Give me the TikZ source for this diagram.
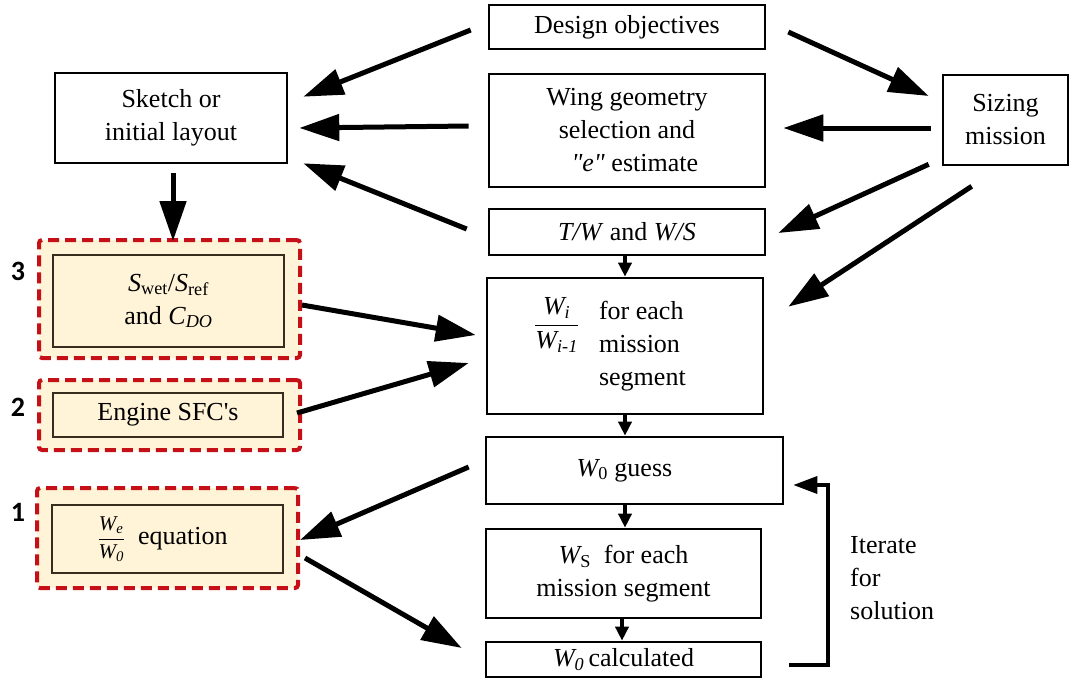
\documentclass[tikz,border=0pt]{standalone}
\usepackage{amsmath}
\usepackage{fontspec}
\setmainfont{Liberation Serif}
\newfontfamily\numfont{Carlito}
\newcommand{\rawq}[1]{{\addfontfeatures{Ligatures=TeXOff}#1}}
\usetikzlibrary{arrows.meta,calc}
\definecolor{dashred}{RGB}{196,16,22}
\definecolor{beige}{RGB}{255,243,216}
\definecolor{innerline}{RGB}{55,45,30}
\tikzset{
  box/.style={draw=black,line width=2.6pt,inner sep=0pt,align=center,
    font=\fontsize{26}{33}\selectfont},
  hlbox/.style={draw=innerline,fill=beige,line width=2.6pt,inner sep=0pt,align=center,
    font=\fontsize{26}{33}\selectfont},
  dashbox/.style={draw=dashred,fill=beige,line width=4pt,dash pattern=on 11pt off 6pt,
    rounded corners=3pt,inner sep=0pt},
  bigarrow/.style={line width=5pt,-{Triangle[length=40pt,width=26pt]}},
  smallarrow/.style={line width=4pt,-{Triangle[length=14pt,width=13pt]}},
  looparrow/.style={line width=3.5pt,-{Triangle[length=24pt,width=17pt]}},
  numlabel/.style={font=\numfont\bfseries\fontsize{28}{30}\selectfont,inner sep=0pt},
  plain/.style={inner sep=0pt,align=left,font=\fontsize{26}{33}\selectfont}
}
\begin{document}
\begin{tikzpicture}[x=1pt,y=-1pt]
\useasboundingbox (0,0) rectangle (1073,691);
\fill[white] (0,0) rectangle (1073,691);

% dashed highlight frames
\node[dashbox,minimum width=261pt,minimum height=118pt] (swo) at (169.5,299) {};
\node[dashbox,minimum width=261pt,minimum height=70pt] (sfco) at (169.5,415) {};
\node[dashbox,minimum width=261pt,minimum height=100pt] (weo) at (167.5,538) {};

% central column
\node[box,minimum width=276pt,minimum height=44pt] (obj) at (627,27) {Design objectives};
\node[box,minimum width=276pt,minimum height=113pt] (wing) at (627,130.5)
  {Wing geometry\\selection and\\\hspace*{0.6em}\textit{\rawq{"}e\rawq{"}} estimate};
\node[box,minimum width=276pt,minimum height=46pt] (tw) at (627,232)
  {\textit{T/W} and \textit{W/S}};
\node[box,minimum width=276pt,minimum height=136pt] (wi) at (625,346)
  {\begin{tabular}{@{}c@{\hspace{20pt}}l@{}}
   \raisebox{-12pt}[0pt][0pt]{$\dfrac{\textit{W}_{\textit{i}}}{\textit{W}_{\textit{i-1}}}$} & for each\\
    & mission\\
    & segment
   \end{tabular}\hspace*{30pt}};
\node[box,minimum width=297pt,minimum height=67pt] (guess) at (634.5,470.5)
  {$\textit{W}_{\textup{0}}$ guess\hspace*{20pt}};
\node[box,minimum width=275pt,minimum height=89pt] (ws) at (623.5,573.5)
  {$\textit{W}_{\textup{S}}$\ \ for each\\mission segment};
\node[box,minimum width=275pt,minimum height=35pt] (calc) at (623.5,659.5)
  {$\textit{W}_{\textit{0}}$\,calculated};

% left column
\node[box,minimum width=232pt,minimum height=90pt] (sketch) at (171,118)
  {Sketch or\\initial layout};
\node[hlbox,minimum width=231pt,minimum height=92pt] (sw) at (168.5,301)
  {$\textit{S}_{\textup{wet}}$/$\textit{S}_{\textup{ref}}$\\and $\textit{C}_{\textit{DO}}$};
\node[hlbox,minimum width=230pt,minimum height=44pt] (sfc) at (168,415)
  {Engine SFC\rawq{'}s};
\node[hlbox,minimum width=231pt,minimum height=68pt] (we) at (167.5,539)
  {{\fontsize{21}{24}\selectfont$\dfrac{\textit{W}_{\textit{e}}}{\textit{W}_{\textit{0}}}$}\ \ equation\hspace*{10pt}};

% right
\node[box,minimum width=125pt,minimum height=90pt] (sizing) at (1005.5,120)
  {Sizing\\mission};

% numbers
\node[numlabel] (n3) at (18,271) {3};
\node[numlabel] (n2) at (18,407) {2};
\node[numlabel] (n1) at (18,512) {1};

% label
\node[plain,anchor=west] (iter) at (850,578) {Iterate\\for\\solution};

% big arrows
\draw[bigarrow] ($(obj.west)+(-17,3)$) -- ($(sketch.north east)+(15,25)$);
\draw[bigarrow] ($(wing.west)+(-19,-4.5)$) -- ($(sketch.east)+(11,10)$);
\draw[bigarrow] ($(tw.west)+(-21,-3)$) -- ($(sketch.south east)+(15,-1)$);
\draw[bigarrow] ($(obj.east)+(22,5)$) -- ($(sizing.west)+(-13,-24)$);
\draw[bigarrow] ($(sizing.west)+(-11,8)$) -- ($(wing.east)+(17,-2.5)$);
\draw[bigarrow] ($(sizing.south west)+(-13,-2)$) -- ($(tw.east)+(12,1)$);
\draw[bigarrow] ($(sizing.south west)+(30,20)$) -- ($(wi.north east)+(24,30)$);
\draw[bigarrow] ($(sketch.south)+(2,9)$) -- ($(swo.north)+(3.5,3)$);
\draw[bigarrow] ($(swo.east)+(0,6)$) -- ($(wi.west)+(-10,-11)$);
\draw[bigarrow] ($(sfco.east)+(-5,-2)$) -- ($(wi.west)+(-17,17)$);
\draw[bigarrow] ($(guess.west)+(-16,-3.5)$) -- ($(weo.east)+(0,2)$);
\draw[bigarrow] ($(weo.east)+(5,20)$) -- ($(calc.west)+(-23,-11.5)$);

% chain arrows
\coordinate (c1) at ($(tw.south)+(-2,0)$);
\coordinate (c2) at (c1 |- wi.north);
\coordinate (c3) at (wi.south);
\coordinate (c4) at (wi.south |- guess.north);
\coordinate (c5) at (wi.south |- guess.south);
\coordinate (c6) at (wi.south |- ws.north);
\coordinate (c7) at ($(ws.south)+(-1.5,0)$);
\coordinate (c8) at (c7 |- calc.north);
\draw[smallarrow] (c1) -- (c2);
\draw[smallarrow] (c3) -- (c4);
\draw[smallarrow] (c5) -- (c6);
\draw[smallarrow] (c7) -- (c8);

% iteration loop
\coordinate (lc) at ($(calc.east)+(27,5.5)$);
\coordinate (lg) at ($(guess.east)+(9,14.5)$);
\draw[looparrow,line join=miter] (lc) -- (828,665) |- (lg);
\end{tikzpicture}
\end{document}
